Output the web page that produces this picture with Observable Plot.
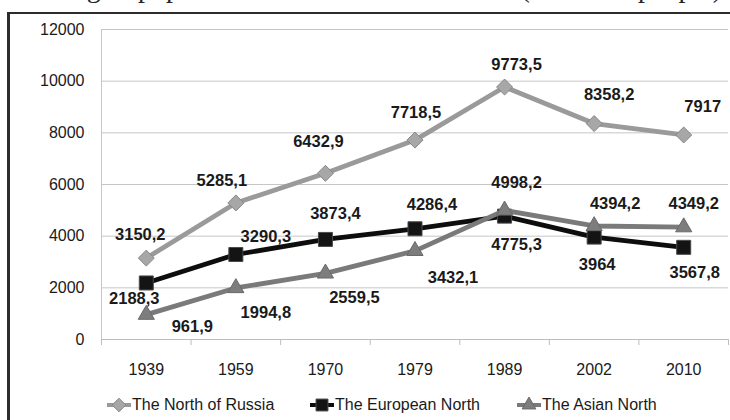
<!DOCTYPE html>
<html>
<head>
<meta charset="utf-8">
<script src="https://cdn.jsdelivr.net/npm/d3@7"></script>
<script src="https://cdn.jsdelivr.net/npm/@observablehq/plot@0.6"></script>
<style>
  html, body { margin: 0; padding: 0; background: #fff; }
  #wrap { position: relative; width: 730px; height: 420px; overflow: hidden; background: #fff; font-family: "Liberation Sans", Arial, sans-serif; }
  #title { position: absolute; right: 8px; top: -26px; font-family: "Liberation Serif", serif; font-size: 28px; line-height: 27px; white-space: nowrap; color: #222; }
  #frame { position: absolute; left: 7px; top: 12px; width: 800px; height: 500px; border-left: 3px solid #2c2c2c; border-top: 2px solid #2c2c2c; }
  #chart { position: absolute; left: 0; top: 0; }
  .leg { position: absolute; top: 395px; height: 20px; display: flex; align-items: center; font-size: 16px; color: #1a1a1a; white-space: nowrap; }
  .leg svg { display: block; margin-right: 1px; }
</style>
</head>
<body>
<div id="wrap">
  <div id="title">Trend in the existing of population of the North of Russia (thousand people)</div>
  <div id="frame"></div>
  <div id="chart"></div>
  <div id="legend"></div>
</div>
<script>
// ---- data ----
const years = ["1939", "1959", "1970", "1979", "1989", "2002", "2010"];
const seriesNames = ["The North of Russia", "The European North", "The Asian North"];
const northRussia = [3150.2, 5285.1, 6432.9, 7718.5, 9773.5, 8358.2, 7917];
const europeanNorth = [2188.3, 3290.3, 3873.4, 4286.4, 4775.3, 3964, 3567.8];
const asianNorth = [961.9, 1994.8, 2559.5, 3432.1, 4998.2, 4394.2, 4349.2];
const yTicks = [0, 2000, 4000, 6000, 8000, 10000, 12000];

// label offsets (px) relative to each point, per series
const northOffsets = [[-6, -23], [-14, -22], [-7, -32], [1, -27], [12, -22], [15, -29], [19, -28]];
const europeanOffsets = [[-12, 16], [30, -18], [10, -26], [17, -24], [12, 29], [3, 28], [11, 25]];
const asianOffsets = [[46, 12], [30, 25], [29, 24], [38, 27], [12, -28], [21, -22], [10, -23]];

const styles = [
  {line: "#9a9a9a", fill: "#a7a7a7", stroke: "#878787", symbol: "diamond2", r: 7.2},
  {line: "#0d0d0d", fill: "#141414", stroke: "#4a4a4a", symbol: "square", r: 7.9},
  {line: "#7a7a7a", fill: "#7d7d7d", stroke: "#6a6a6a", symbol: "triangle", r: 6.0}
];

const allValues = [northRussia, europeanNorth, asianNorth];
const allOffsets = [northOffsets, europeanOffsets, asianOffsets];
const idx = years.map((_, i) => i);
const boundaries = d3.range(-0.5, years.length, 1);
const fmt = v => String(v).replace(".", ",");

const marks = [
  Plot.gridY(yTicks, {stroke: "#c6c6c6", strokeOpacity: 1}),
  Plot.ruleX([-0.5], {y1: 0, y2: 12000, stroke: "#c6c6c6"}),
  Plot.ruleY([0], {stroke: "#bdbdbd"}),
  Plot.axisY(yTicks, {tickSize: 0, tickPadding: 17, fontSize: 16, tickFormat: d => String(d), label: null}),
  Plot.axisX(idx, {tickSize: 0, tickPadding: 24, fontSize: 16, tickFormat: i => years[i], label: null}),
  Plot.axisX(boundaries, {tickSize: 6, stroke: "#bdbdbd", tickFormat: () => "", label: null})
];

allValues.forEach((vals, s) => {
  const rows = vals.map((v, i) => ({i, value: v, series: seriesNames[s]}));
  const st = styles[s];
  marks.push(Plot.line(rows, {x: "i", y: "value", stroke: st.line, strokeWidth: 4.8, strokeLinejoin: "round"}));
  marks.push(Plot.dot(rows, {x: "i", y: "value", symbol: st.symbol, r: st.r, fill: st.fill, stroke: st.stroke, strokeWidth: 1}));
});

allValues.forEach((vals, s) => {
  vals.forEach((v, i) => {
    const [dx, dy] = allOffsets[s][i];
    marks.push(Plot.text([{i, value: v}], {x: "i", y: "value", text: d => fmt(d.value), dx, dy,
      fontSize: 16.5, fontWeight: "bold", fill: "#1a1a1a"}));
  });
});

const chart = Plot.plot({
  width: 730,
  height: 390,
  marginTop: 29,
  marginBottom: 51,
  marginLeft: 101,
  marginRight: 2,
  style: {fontFamily: "Liberation Sans, Arial, sans-serif", fontSize: "16px", color: "#1a1a1a", background: "transparent", overflow: "visible"},
  x: {type: "linear", domain: [-0.5, years.length - 0.5], axis: null},
  y: {domain: [0, 12000], axis: null},
  marks
});
document.getElementById("chart").appendChild(chart);

// ---- legend ----
const legendLeft = [107, 310, 517];
const legend = document.getElementById("legend");
seriesNames.forEach((name, s) => {
  const st = styles[s];
  const item = document.createElement("div");
  item.className = "leg";
  item.style.left = legendLeft[s] + "px";
  const svg = d3.create("svg").attr("width", 24).attr("height", 16);
  svg.append("line").attr("x1", 0).attr("x2", 24).attr("y1", 8).attr("y2", 8)
    .attr("stroke", st.line).attr("stroke-width", 4);
  const sym = {diamond2: d3.symbolDiamond2, square: d3.symbolSquare, triangle: d3.symbolTriangle}[st.symbol];
  svg.append("path").attr("transform", "translate(12,8)")
    .attr("d", d3.symbol(sym, Math.PI * (st.r * 0.85) ** 2)())
    .attr("fill", st.fill).attr("stroke", st.stroke);
  item.appendChild(svg.node());
  const span = document.createElement("span");
  span.textContent = name;
  item.appendChild(span);
  legend.appendChild(item);
});
</script>
</body>
</html>
